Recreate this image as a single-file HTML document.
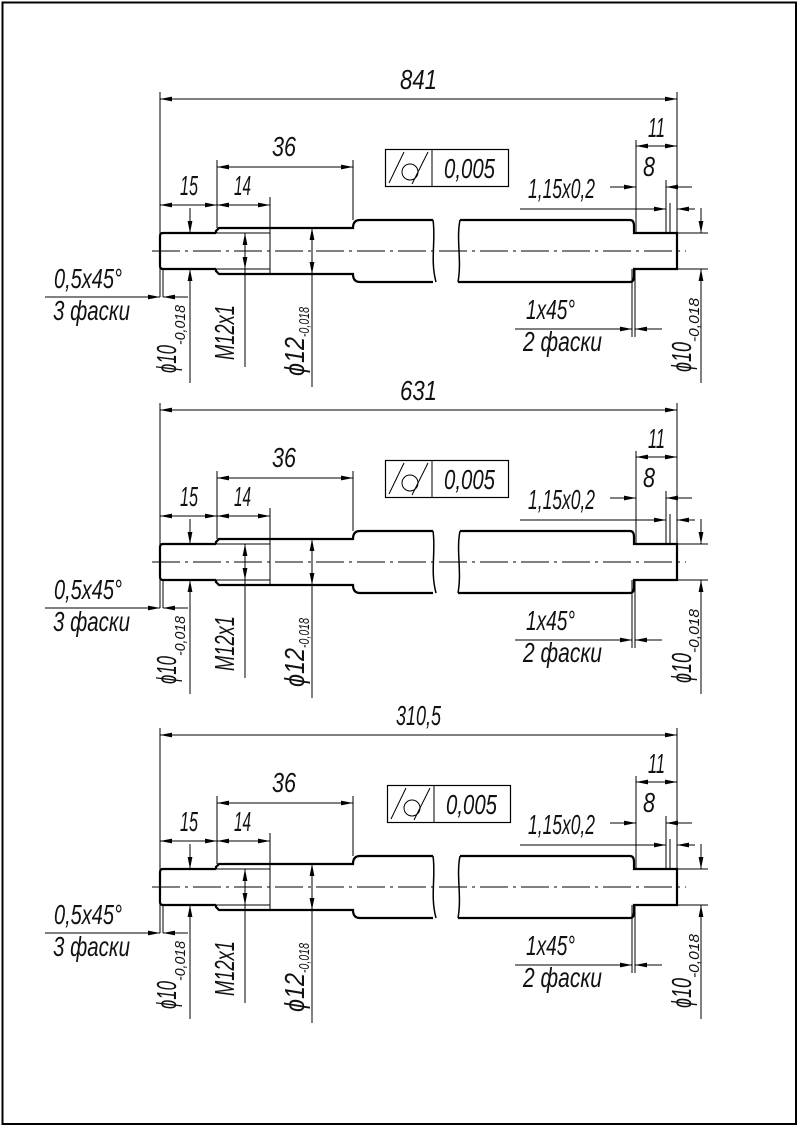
<!DOCTYPE html>
<html><head><meta charset="utf-8"><style>
html,body{margin:0;padding:0;background:#fff}
svg{display:block}
text{font-family:"Liberation Sans",sans-serif;font-style:italic;fill:#111}
.t{font-size:28px}
.s{font-size:15px}
.k{stroke:#000;stroke-width:2.2;fill:none}
.n{stroke:#000;stroke-width:1;fill:none}
.c{stroke:#000;stroke-width:1;fill:none;stroke-dasharray:28 5 3 5}
</style></head><body>
<svg width="798" height="1127" viewBox="0 0 798 1127" xmlns="http://www.w3.org/2000/svg">
<defs>
<marker id="a" markerUnits="userSpaceOnUse" markerWidth="14" markerHeight="6" viewBox="-13 -3 14 6" refX="0" refY="0" orient="auto"><path d="M0,0 L-12,-2.4 L-12,2.4 z" fill="#000"/></marker>
</defs>
<rect x="2.5" y="2.5" width="793.5" height="1121.5" fill="none" stroke="#000" stroke-width="2"/>

<g>
<path class="k" d="M216,233 L163,233 Q160,233 160,236 L160,266 Q160,269 163,269 L216,269"/>
<path class="k" d="M216,233 L216,231 L219,228 L353,228 Q353,220 360,220 L433,220"/>
<path class="k" d="M216,269 L216,271 L219,274 L353,274 Q353,282 360,282 L433,282"/>
<path class="n" style="stroke-width:1.5" d="M433,220 C436,240 430,260 436,282"/>
<path class="n" style="stroke-width:1.5" d="M460,220 C456,240 462,260 458,282"/>
<path class="k" d="M460,220 L630,220 Q634,220 634,226 L634,233 L677,233 L677,269 L634,269 L634,276 Q634,282 630,282 L458,282"/>
<path class="n" d="M216,233 L270,233 M216,269 L270,269 M270,197 L270,273"/>
<path class="c" d="M152,251 L686,251"/>
<path class="n" d="M160,92 L160,297 M677,92 L677,233 M217,160 L217,228 M353,160 L353,220 M636,140 L636,233 M666,180 L666,233 M670,203 L670,233 M677,233 L708,233 M677,269 L708,269 M632,269 L632,337 M635,269 L635,337 M163,269 L163,297"/>
<path class="n" d="M170,99 L160,99" marker-end="url(#a)"/><path class="n" d="M170,99 L677,99" marker-end="url(#a)"/>
<path class="n" d="M285,167 L217,167" marker-end="url(#a)"/><path class="n" d="M285,167 L353,167" marker-end="url(#a)"/>
<path class="n" d="M188,205 L160,205" marker-end="url(#a)"/><path class="n" d="M188,205 L217,205" marker-end="url(#a)"/>
<path class="n" d="M243,205 L217,205" marker-end="url(#a)"/><path class="n" d="M243,205 L270,205" marker-end="url(#a)"/>
<path class="n" d="M656,146 L636,146" marker-end="url(#a)"/><path class="n" d="M656,146 L677,146" marker-end="url(#a)"/>
<path class="n" d="M610,187 L636,187" marker-end="url(#a)"/><path class="n" d="M692,187 L666,187" marker-end="url(#a)"/>
<path class="n" d="M520,209 L666,209" marker-end="url(#a)"/><path class="n" d="M695,209 L677,209" marker-end="url(#a)"/>
<path class="n" d="M45,297 L160,297" marker-end="url(#a)"/><path class="n" d="M188,297 L163,297" marker-end="url(#a)"/>
<path class="n" d="M515,329 L632,329" marker-end="url(#a)"/><path class="n" d="M662,329 L635,329" marker-end="url(#a)"/>
<path class="n" d="M190,208 L190,233" marker-end="url(#a)"/><path class="n" d="M190,383 L190,269" marker-end="url(#a)"/>
<path class="n" d="M701,208 L701,233" marker-end="url(#a)"/><path class="n" d="M701,383 L701,269" marker-end="url(#a)"/>
<path class="n" d="M245,251 L245,233" marker-end="url(#a)"/><path class="n" d="M245,251 L245,269" marker-end="url(#a)"/><path class="n" d="M245,269 L245,367"/>
<path class="n" d="M312,251 L312,228" marker-end="url(#a)"/><path class="n" d="M312,251 L312,274" marker-end="url(#a)"/><path class="n" d="M312,274 L312,387"/>
<rect class="n" x="385.5" y="149.5" width="123" height="37" style="stroke-width:1.2"/>
<path class="n" d="M432,149 L432,187 M389,183 L404,152 M412,184 L428,152"/>
<circle class="n" cx="410" cy="172" r="8"/>
<text class="t" x="444" y="178" textLength="51" lengthAdjust="spacingAndGlyphs">0,005</text>
<text class="t" x="180" y="195" textLength="18" lengthAdjust="spacingAndGlyphs">15</text>
<text class="t" x="234" y="195" textLength="17" lengthAdjust="spacingAndGlyphs">14</text>
<text class="t" x="272" y="156" textLength="24" lengthAdjust="spacingAndGlyphs">36</text>
<text class="t" x="648" y="137" textLength="17" lengthAdjust="spacingAndGlyphs">11</text>
<text class="t" x="643" y="176" textLength="12" lengthAdjust="spacingAndGlyphs">8</text>
<text class="t" x="528" y="198" textLength="67" lengthAdjust="spacingAndGlyphs">1,15x0,2</text>
<text class="t" x="54" y="288" textLength="68" lengthAdjust="spacingAndGlyphs">0,5x45°</text>
<text class="t" x="53" y="320" textLength="77" lengthAdjust="spacingAndGlyphs">3 фаски</text>
<text class="t" x="526" y="319" textLength="49" lengthAdjust="spacingAndGlyphs">1x45°</text>
<text class="t" x="523" y="351" textLength="79" lengthAdjust="spacingAndGlyphs">2 фаски</text>
<text transform="translate(176,373) rotate(-90)"><tspan class="t" textLength="28" lengthAdjust="spacingAndGlyphs">ϕ10</tspan><tspan class="s" dy="9" textLength="40" lengthAdjust="spacingAndGlyphs">-0,018</tspan></text>
<text class="t" transform="translate(234,360) rotate(-90)" textLength="55" lengthAdjust="spacingAndGlyphs">M12x1</text>
<text transform="translate(304,376) rotate(-90)"><tspan class="t" textLength="39" lengthAdjust="spacingAndGlyphs">ϕ12</tspan><tspan class="s" dy="5" textLength="30" lengthAdjust="spacingAndGlyphs">-0,018</tspan></text>
<text transform="translate(691,372) rotate(-90)"><tspan class="t" textLength="30" lengthAdjust="spacingAndGlyphs">ϕ10</tspan><tspan class="s" dy="8" textLength="44" lengthAdjust="spacingAndGlyphs">-0,018</tspan></text>
<text class="t" x="400" y="89" textLength="37" lengthAdjust="spacingAndGlyphs">841</text>
</g>

<g transform="translate(0,311)">
<path class="k" d="M216,233 L163,233 Q160,233 160,236 L160,266 Q160,269 163,269 L216,269"/>
<path class="k" d="M216,233 L216,231 L219,228 L353,228 Q353,220 360,220 L433,220"/>
<path class="k" d="M216,269 L216,271 L219,274 L353,274 Q353,282 360,282 L433,282"/>
<path class="n" style="stroke-width:1.5" d="M433,220 C436,240 430,260 436,282"/>
<path class="n" style="stroke-width:1.5" d="M460,220 C456,240 462,260 458,282"/>
<path class="k" d="M460,220 L630,220 Q634,220 634,226 L634,233 L677,233 L677,269 L634,269 L634,276 Q634,282 630,282 L458,282"/>
<path class="n" d="M216,233 L270,233 M216,269 L270,269 M270,197 L270,273"/>
<path class="c" d="M152,251 L686,251"/>
<path class="n" d="M160,92 L160,297 M677,92 L677,233 M217,160 L217,228 M353,160 L353,220 M636,140 L636,233 M666,180 L666,233 M670,203 L670,233 M677,233 L708,233 M677,269 L708,269 M632,269 L632,337 M635,269 L635,337 M163,269 L163,297"/>
<path class="n" d="M170,99 L160,99" marker-end="url(#a)"/><path class="n" d="M170,99 L677,99" marker-end="url(#a)"/>
<path class="n" d="M285,167 L217,167" marker-end="url(#a)"/><path class="n" d="M285,167 L353,167" marker-end="url(#a)"/>
<path class="n" d="M188,205 L160,205" marker-end="url(#a)"/><path class="n" d="M188,205 L217,205" marker-end="url(#a)"/>
<path class="n" d="M243,205 L217,205" marker-end="url(#a)"/><path class="n" d="M243,205 L270,205" marker-end="url(#a)"/>
<path class="n" d="M656,146 L636,146" marker-end="url(#a)"/><path class="n" d="M656,146 L677,146" marker-end="url(#a)"/>
<path class="n" d="M610,187 L636,187" marker-end="url(#a)"/><path class="n" d="M692,187 L666,187" marker-end="url(#a)"/>
<path class="n" d="M520,209 L666,209" marker-end="url(#a)"/><path class="n" d="M695,209 L677,209" marker-end="url(#a)"/>
<path class="n" d="M45,297 L160,297" marker-end="url(#a)"/><path class="n" d="M188,297 L163,297" marker-end="url(#a)"/>
<path class="n" d="M515,329 L632,329" marker-end="url(#a)"/><path class="n" d="M662,329 L635,329" marker-end="url(#a)"/>
<path class="n" d="M190,208 L190,233" marker-end="url(#a)"/><path class="n" d="M190,383 L190,269" marker-end="url(#a)"/>
<path class="n" d="M701,208 L701,233" marker-end="url(#a)"/><path class="n" d="M701,383 L701,269" marker-end="url(#a)"/>
<path class="n" d="M245,251 L245,233" marker-end="url(#a)"/><path class="n" d="M245,251 L245,269" marker-end="url(#a)"/><path class="n" d="M245,269 L245,367"/>
<path class="n" d="M312,251 L312,228" marker-end="url(#a)"/><path class="n" d="M312,251 L312,274" marker-end="url(#a)"/><path class="n" d="M312,274 L312,387"/>
<rect class="n" x="385.5" y="149.5" width="123" height="37" style="stroke-width:1.2"/>
<path class="n" d="M432,149 L432,187 M389,183 L404,152 M412,184 L428,152"/>
<circle class="n" cx="410" cy="172" r="8"/>
<text class="t" x="444" y="178" textLength="51" lengthAdjust="spacingAndGlyphs">0,005</text>
<text class="t" x="180" y="195" textLength="18" lengthAdjust="spacingAndGlyphs">15</text>
<text class="t" x="234" y="195" textLength="17" lengthAdjust="spacingAndGlyphs">14</text>
<text class="t" x="272" y="156" textLength="24" lengthAdjust="spacingAndGlyphs">36</text>
<text class="t" x="648" y="137" textLength="17" lengthAdjust="spacingAndGlyphs">11</text>
<text class="t" x="643" y="176" textLength="12" lengthAdjust="spacingAndGlyphs">8</text>
<text class="t" x="528" y="198" textLength="67" lengthAdjust="spacingAndGlyphs">1,15x0,2</text>
<text class="t" x="54" y="288" textLength="68" lengthAdjust="spacingAndGlyphs">0,5x45°</text>
<text class="t" x="53" y="320" textLength="77" lengthAdjust="spacingAndGlyphs">3 фаски</text>
<text class="t" x="526" y="319" textLength="49" lengthAdjust="spacingAndGlyphs">1x45°</text>
<text class="t" x="523" y="351" textLength="79" lengthAdjust="spacingAndGlyphs">2 фаски</text>
<text transform="translate(176,373) rotate(-90)"><tspan class="t" textLength="28" lengthAdjust="spacingAndGlyphs">ϕ10</tspan><tspan class="s" dy="9" textLength="40" lengthAdjust="spacingAndGlyphs">-0,018</tspan></text>
<text class="t" transform="translate(234,360) rotate(-90)" textLength="55" lengthAdjust="spacingAndGlyphs">M12x1</text>
<text transform="translate(304,376) rotate(-90)"><tspan class="t" textLength="39" lengthAdjust="spacingAndGlyphs">ϕ12</tspan><tspan class="s" dy="5" textLength="30" lengthAdjust="spacingAndGlyphs">-0,018</tspan></text>
<text transform="translate(691,372) rotate(-90)"><tspan class="t" textLength="30" lengthAdjust="spacingAndGlyphs">ϕ10</tspan><tspan class="s" dy="8" textLength="44" lengthAdjust="spacingAndGlyphs">-0,018</tspan></text>
<text class="t" x="400" y="89" textLength="37" lengthAdjust="spacingAndGlyphs">631</text>
</g>

<g transform="translate(0,636)">
<path class="k" d="M216,233 L163,233 Q160,233 160,236 L160,266 Q160,269 163,269 L216,269"/>
<path class="k" d="M216,233 L216,231 L219,228 L353,228 Q353,220 360,220 L433,220"/>
<path class="k" d="M216,269 L216,271 L219,274 L353,274 Q353,282 360,282 L433,282"/>
<path class="n" style="stroke-width:1.5" d="M433,220 C436,240 430,260 436,282"/>
<path class="n" style="stroke-width:1.5" d="M460,220 C456,240 462,260 458,282"/>
<path class="k" d="M460,220 L630,220 Q634,220 634,226 L634,233 L677,233 L677,269 L634,269 L634,276 Q634,282 630,282 L458,282"/>
<path class="n" d="M216,233 L270,233 M216,269 L270,269 M270,197 L270,273"/>
<path class="c" d="M152,251 L686,251"/>
<path class="n" d="M160,92 L160,297 M677,92 L677,233 M217,160 L217,228 M353,160 L353,220 M636,140 L636,233 M666,180 L666,233 M670,203 L670,233 M677,233 L708,233 M677,269 L708,269 M632,269 L632,337 M635,269 L635,337 M163,269 L163,297"/>
<path class="n" d="M170,99 L160,99" marker-end="url(#a)"/><path class="n" d="M170,99 L677,99" marker-end="url(#a)"/>
<path class="n" d="M285,167 L217,167" marker-end="url(#a)"/><path class="n" d="M285,167 L353,167" marker-end="url(#a)"/>
<path class="n" d="M188,205 L160,205" marker-end="url(#a)"/><path class="n" d="M188,205 L217,205" marker-end="url(#a)"/>
<path class="n" d="M243,205 L217,205" marker-end="url(#a)"/><path class="n" d="M243,205 L270,205" marker-end="url(#a)"/>
<path class="n" d="M656,146 L636,146" marker-end="url(#a)"/><path class="n" d="M656,146 L677,146" marker-end="url(#a)"/>
<path class="n" d="M610,187 L636,187" marker-end="url(#a)"/><path class="n" d="M692,187 L666,187" marker-end="url(#a)"/>
<path class="n" d="M520,209 L666,209" marker-end="url(#a)"/><path class="n" d="M695,209 L677,209" marker-end="url(#a)"/>
<path class="n" d="M45,297 L160,297" marker-end="url(#a)"/><path class="n" d="M188,297 L163,297" marker-end="url(#a)"/>
<path class="n" d="M515,329 L632,329" marker-end="url(#a)"/><path class="n" d="M662,329 L635,329" marker-end="url(#a)"/>
<path class="n" d="M190,208 L190,233" marker-end="url(#a)"/><path class="n" d="M190,383 L190,269" marker-end="url(#a)"/>
<path class="n" d="M701,208 L701,233" marker-end="url(#a)"/><path class="n" d="M701,383 L701,269" marker-end="url(#a)"/>
<path class="n" d="M245,251 L245,233" marker-end="url(#a)"/><path class="n" d="M245,251 L245,269" marker-end="url(#a)"/><path class="n" d="M245,269 L245,367"/>
<path class="n" d="M312,251 L312,228" marker-end="url(#a)"/><path class="n" d="M312,251 L312,274" marker-end="url(#a)"/><path class="n" d="M312,274 L312,387"/>
<rect class="n" x="387.5" y="149.5" width="123" height="37" style="stroke-width:1.2"/>
<path class="n" d="M434,149 L434,187 M391,183 L406,152 M414,184 L430,152"/>
<circle class="n" cx="412" cy="172" r="8"/>
<text class="t" x="446" y="178" textLength="51" lengthAdjust="spacingAndGlyphs">0,005</text>
<text class="t" x="180" y="195" textLength="18" lengthAdjust="spacingAndGlyphs">15</text>
<text class="t" x="234" y="195" textLength="17" lengthAdjust="spacingAndGlyphs">14</text>
<text class="t" x="272" y="156" textLength="24" lengthAdjust="spacingAndGlyphs">36</text>
<text class="t" x="648" y="137" textLength="17" lengthAdjust="spacingAndGlyphs">11</text>
<text class="t" x="643" y="176" textLength="12" lengthAdjust="spacingAndGlyphs">8</text>
<text class="t" x="528" y="198" textLength="67" lengthAdjust="spacingAndGlyphs">1,15x0,2</text>
<text class="t" x="54" y="288" textLength="68" lengthAdjust="spacingAndGlyphs">0,5x45°</text>
<text class="t" x="53" y="320" textLength="77" lengthAdjust="spacingAndGlyphs">3 фаски</text>
<text class="t" x="526" y="319" textLength="49" lengthAdjust="spacingAndGlyphs">1x45°</text>
<text class="t" x="523" y="351" textLength="79" lengthAdjust="spacingAndGlyphs">2 фаски</text>
<text transform="translate(176,373) rotate(-90)"><tspan class="t" textLength="28" lengthAdjust="spacingAndGlyphs">ϕ10</tspan><tspan class="s" dy="9" textLength="40" lengthAdjust="spacingAndGlyphs">-0,018</tspan></text>
<text class="t" transform="translate(234,360) rotate(-90)" textLength="55" lengthAdjust="spacingAndGlyphs">M12x1</text>
<text transform="translate(304,376) rotate(-90)"><tspan class="t" textLength="39" lengthAdjust="spacingAndGlyphs">ϕ12</tspan><tspan class="s" dy="5" textLength="30" lengthAdjust="spacingAndGlyphs">-0,018</tspan></text>
<text transform="translate(691,372) rotate(-90)"><tspan class="t" textLength="30" lengthAdjust="spacingAndGlyphs">ϕ10</tspan><tspan class="s" dy="8" textLength="44" lengthAdjust="spacingAndGlyphs">-0,018</tspan></text>
<text class="t" x="396" y="89" textLength="45" lengthAdjust="spacingAndGlyphs">310,5</text>
</g>
</svg>
</body></html>
